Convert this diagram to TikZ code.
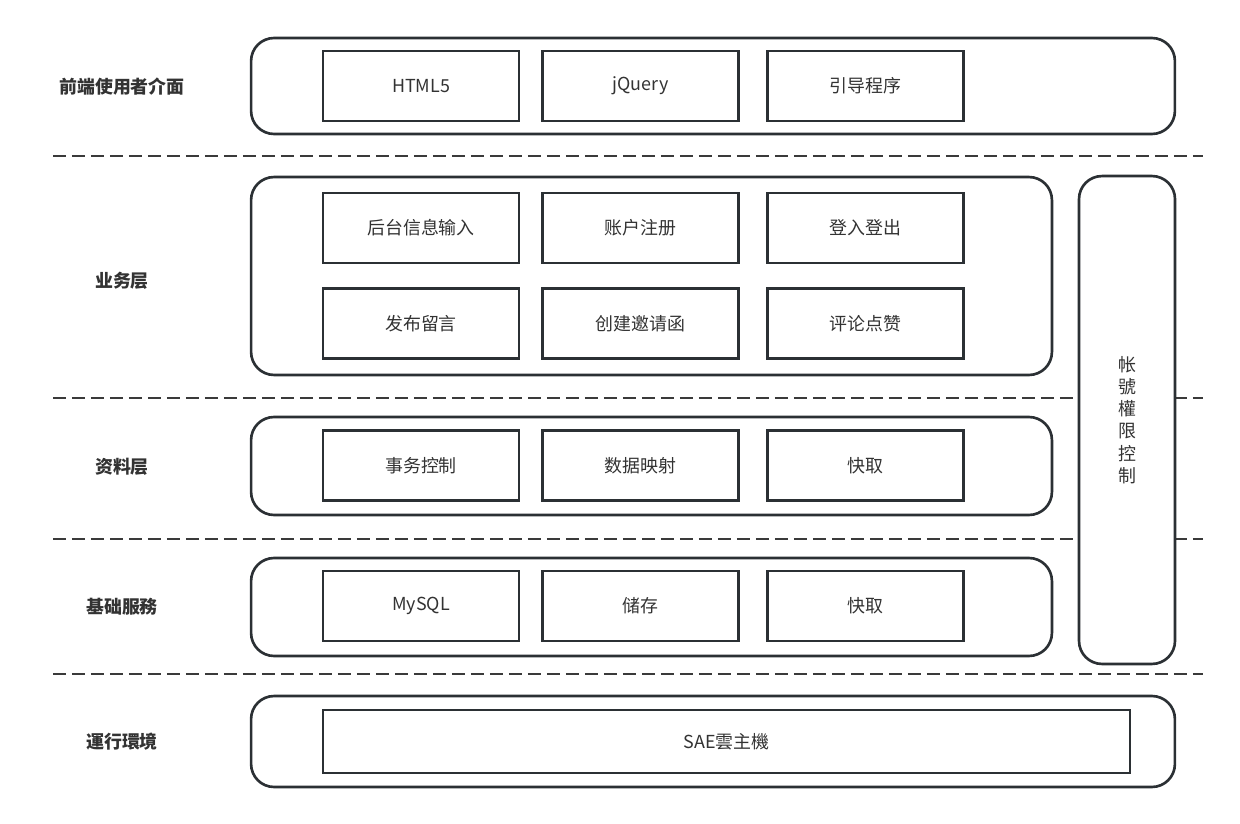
\documentclass[tikz,border=0pt]{standalone}
\usepackage{fontspec}
\setmainfont{Noto Sans CJK SC}
\usetikzlibrary{positioning}

\begin{document}
\begin{tikzpicture}[x=0.02cm, y=-0.02cm]
    % Define colours
    \definecolor{borderColour}{HTML}{2B3034}
    \definecolor{textColour}{HTML}{333333}
    \definecolor{dashColour}{HTML}{3A3A3A}

    % Define styles
    \tikzset{
        layer/.style={draw=borderColour, line width=1.5pt, rounded corners=0.46cm, inner sep=0pt, fill=white},
        item/.style={draw=borderColour, line width=1.25pt, minimum width=3.92cm, minimum height=1.4cm, inner sep=0pt,
            text=textColour, font=\fontsize{10.2pt}{12pt}\selectfont},
        tag/.style={text=textColour, font=\fontsize{10.2pt}{12pt}\selectfont\bfseries},
        divider/.style={draw=dashColour, line width=1.6pt, dash pattern=on 0.26cm off 0.12cm}
    }

    % Fix page size
    \useasboundingbox (0,0) rectangle (1240,824);

    % Draw layer dividers
    \foreach \y in {156,398,539,674}
        \draw[divider] (53,\y) -- (1203,\y);

    % Draw layer frames
    \node[layer, minimum width=18.48cm, minimum height=1.92cm] (ui) at (713,86) {};
    \node[layer, minimum width=16.02cm, minimum height=3.96cm] (biz) at (651.5,276) {};
    \node[layer, minimum width=16.02cm, minimum height=1.96cm] (data) at (651.5,466) {};
    \node[layer, minimum width=16.02cm, minimum height=1.96cm] (base) at (651.5,607) {};
    \node[layer, minimum width=18.48cm, minimum height=1.82cm] (env) at (713,741.5) {};
    \node[layer, minimum width=1.92cm, minimum height=9.76cm, text=textColour,
        font=\fontsize{10.2pt}{12.6pt}\selectfont, align=center] (auth) at (1127,420) {帐\\號\\權\\限\\控\\制};

    % Label the layers
    \node[tag] (uiTag) at (122,87) {前端使用者介面};
    \node[tag] (bizTag) at (122,281) {业务层};
    \node[tag] (dataTag) at (122,467) {资料层};
    \node[tag] (baseTag) at (122,607) {基础服務};
    \node[tag] (envTag) at (122,742) {運行環境};

    % Draw module boxes, one row per line
    \foreach \x/\name/\txt in {421/html/HTML5, 640.5/jq/jQuery, 865.5/guide/引导程序}
        \node[item] (\name) at (\x,86) {\txt};
    \foreach \x/\name/\txt in {421/input/后台信息输入, 640.5/reg/账户注册, 865.5/login/登入登出}
        \node[item] (\name) at (\x,228) {\txt};
    \foreach \x/\name/\txt in {421/post/发布留言, 640.5/invite/创建邀请函, 865.5/like/评论点赞}
        \node[item] (\name) at (\x,323.5) {\txt};
    \foreach \x/\name/\txt in {421/trans/事务控制, 640.5/map/数据映射, 865.5/cacheA/快取}
        \node[item] (\name) at (\x,465.5) {\txt};
    \foreach \x/\name/\txt in {421/mysql/MySQL, 640.5/store/储存, 865.5/cacheB/快取}
        \node[item] (\name) at (\x,606) {\txt};

    % Runtime host spans the whole row
    \node[item, minimum width=16.14cm, minimum height=1.26cm] (sae) at (726.5,741.5) {SAE雲主機};

\end{tikzpicture}
\end{document}
